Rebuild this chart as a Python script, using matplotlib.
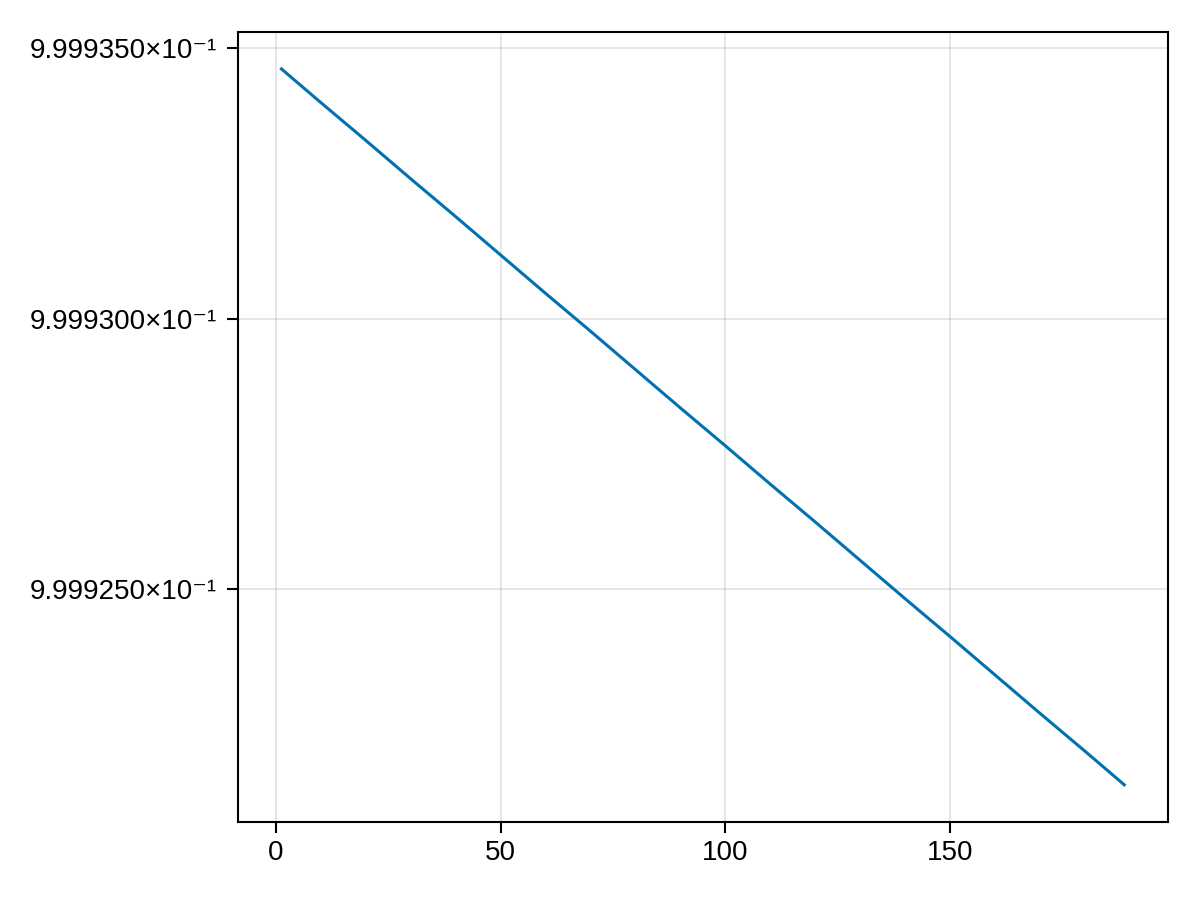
import matplotlib
matplotlib.use("Agg")
import matplotlib.pyplot as plt
from matplotlib.ticker import FixedLocator, FixedFormatter

# data
x_vals = [1, 10, 20, 30, 40, 50, 60, 70, 80, 90, 100, 110, 120, 130, 140, 150, 160, 170, 180, 189]
y_vals = [0.99993464, 0.99993400, 0.99993330, 0.99993259, 0.99993189, 0.99993118,
          0.99993047, 0.99992977, 0.99992906, 0.99992835, 0.99992765, 0.99992694,
          0.99992624, 0.99992553, 0.99992482, 0.99992412, 0.99992341, 0.99992270,
          0.99992200, 0.99992136]

x_ticks = [0, 50, 100, 150]
x_tick_labels = ["0", "50", "100", "150"]
y_ticks = [0.999925, 0.999930, 0.999935]
y_tick_labels = ["9.999250×10⁻¹", "9.999300×10⁻¹", "9.999350×10⁻¹"]

plt.rcParams['font.family'] = ['Liberation Sans', 'DejaVu Sans']

fig = plt.figure(figsize=(12, 9), dpi=100)
ax = fig.add_axes([238/1200, (900-821.7)/900, (1167.7-238)/1200, (821.7-32)/900])

ax.plot(x_vals, y_vals, color=(0, 114/255, 178/255), linewidth=2.2, solid_capstyle='butt')
ax.margins(x=0.05, y=0.05)

ax.xaxis.set_major_locator(FixedLocator(x_ticks))
ax.xaxis.set_major_formatter(FixedFormatter(x_tick_labels))
ax.yaxis.set_major_locator(FixedLocator(y_ticks))
ax.yaxis.set_major_formatter(FixedFormatter(y_tick_labels))

ax.grid(True, color='black', alpha=0.13, linewidth=1.1)
ax.set_axisbelow(True)
for s in ax.spines.values():
    s.set_linewidth(1.5)
    s.set_color('black')
ax.tick_params(axis='both', direction='out', length=8, width=1.5, labelsize=20, color='black')
ax.tick_params(axis='y', pad=7)
ax.tick_params(axis='x', pad=5)

fig.savefig("out.png", dpi=100)
